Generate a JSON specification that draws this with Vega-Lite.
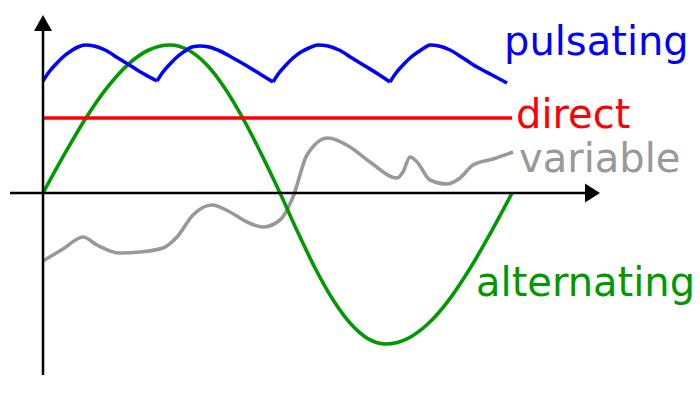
{
  "$schema": "https://vega.github.io/schema/vega-lite/v6.json",
  "width": 700,
  "height": 400,
  "autosize": {"type": "fit", "contains": "padding"},
  "padding": 0,
  "background": "white",
  "config": {"view": {"stroke": null}},
  "datasets": {
    "curves": [
      {"series": "variable", "arc": "v", "t": 0, "v": -68},
      {"series": "variable", "arc": "v", "t": 20, "v": -56},
      {"series": "variable", "arc": "v", "t": 40, "v": -44},
      {"series": "variable", "arc": "v", "t": 54, "v": -52},
      {"series": "variable", "arc": "v", "t": 77, "v": -60},
      {"series": "variable", "arc": "v", "t": 97, "v": -59},
      {"series": "variable", "arc": "v", "t": 120, "v": -55},
      {"series": "variable", "arc": "v", "t": 134, "v": -44},
      {"series": "variable", "arc": "v", "t": 150, "v": -22},
      {"series": "variable", "arc": "v", "t": 169, "v": -12},
      {"series": "variable", "arc": "v", "t": 187, "v": -19},
      {"series": "variable", "arc": "v", "t": 204, "v": -29},
      {"series": "variable", "arc": "v", "t": 220, "v": -34},
      {"series": "variable", "arc": "v", "t": 237, "v": -27},
      {"series": "variable", "arc": "v", "t": 250, "v": -4},
      {"series": "variable", "arc": "v", "t": 264, "v": 38},
      {"series": "variable", "arc": "v", "t": 285, "v": 55},
      {"series": "variable", "arc": "v", "t": 307, "v": 46},
      {"series": "variable", "arc": "v", "t": 327, "v": 31},
      {"series": "variable", "arc": "v", "t": 354, "v": 15},
      {"series": "variable", "arc": "v", "t": 360, "v": 21},
      {"series": "variable", "arc": "v", "t": 367, "v": 36},
      {"series": "variable", "arc": "v", "t": 374, "v": 31},
      {"series": "variable", "arc": "v", "t": 387, "v": 13},
      {"series": "variable", "arc": "v", "t": 404, "v": 9},
      {"series": "variable", "arc": "v", "t": 417, "v": 15},
      {"series": "variable", "arc": "v", "t": 430, "v": 28},
      {"series": "variable", "arc": "v", "t": 450, "v": 34},
      {"series": "variable", "arc": "v", "t": 470, "v": 41},

      {"series": "alternating", "arc": "a", "t": 0, "v": 0},
      {"series": "alternating", "arc": "a", "t": 21.2, "v": 38.3},
      {"series": "alternating", "arc": "a", "t": 42.3, "v": 74},
      {"series": "alternating", "arc": "a", "t": 63.5, "v": 104.6},
      {"series": "alternating", "arc": "a", "t": 84.7, "v": 128.2},
      {"series": "alternating", "arc": "a", "t": 105.8, "v": 143},
      {"series": "alternating", "arc": "a", "t": 127, "v": 148},
      {"series": "alternating", "arc": "a", "t": 145.3, "v": 143},
      {"series": "alternating", "arc": "a", "t": 163.7, "v": 128.2},
      {"series": "alternating", "arc": "a", "t": 182, "v": 104.6},
      {"series": "alternating", "arc": "a", "t": 200.3, "v": 74},
      {"series": "alternating", "arc": "a", "t": 218.7, "v": 38.3},
      {"series": "alternating", "arc": "a", "t": 237, "v": 0},
      {"series": "alternating", "arc": "a", "t": 254.7, "v": -39.1},
      {"series": "alternating", "arc": "a", "t": 272.3, "v": -75.5},
      {"series": "alternating", "arc": "a", "t": 290, "v": -106.8},
      {"series": "alternating", "arc": "a", "t": 307.7, "v": -130.8},
      {"series": "alternating", "arc": "a", "t": 325.3, "v": -145.9},
      {"series": "alternating", "arc": "a", "t": 343, "v": -151},
      {"series": "alternating", "arc": "a", "t": 364, "v": -145.9},
      {"series": "alternating", "arc": "a", "t": 385, "v": -130.8},
      {"series": "alternating", "arc": "a", "t": 406, "v": -106.8},
      {"series": "alternating", "arc": "a", "t": 427, "v": -75.5},
      {"series": "alternating", "arc": "a", "t": 448, "v": -39.1},
      {"series": "alternating", "arc": "a", "t": 469, "v": 0},

      {"series": "direct", "arc": "d", "t": 0, "v": 75},
      {"series": "direct", "arc": "d", "t": 469, "v": 75},

      {"series": "pulsating", "arc": "p1", "t": 0, "v": 112},
      {"series": "pulsating", "arc": "p1", "t": 6, "v": 121},
      {"series": "pulsating", "arc": "p1", "t": 13, "v": 129},
      {"series": "pulsating", "arc": "p1", "t": 20, "v": 136},
      {"series": "pulsating", "arc": "p1", "t": 28, "v": 142},
      {"series": "pulsating", "arc": "p1", "t": 35, "v": 146},
      {"series": "pulsating", "arc": "p1", "t": 42, "v": 148},
      {"series": "pulsating", "arc": "p1", "t": 51, "v": 147},
      {"series": "pulsating", "arc": "p1", "t": 62, "v": 143},
      {"series": "pulsating", "arc": "p1", "t": 75, "v": 135},
      {"series": "pulsating", "arc": "p1", "t": 88, "v": 127},
      {"series": "pulsating", "arc": "p1", "t": 101, "v": 119},
      {"series": "pulsating", "arc": "p1", "t": 114, "v": 112},
      {"series": "pulsating", "arc": "p2", "t": 114, "v": 112},
      {"series": "pulsating", "arc": "p2", "t": 120, "v": 121},
      {"series": "pulsating", "arc": "p2", "t": 127, "v": 129},
      {"series": "pulsating", "arc": "p2", "t": 134, "v": 136},
      {"series": "pulsating", "arc": "p2", "t": 142, "v": 142},
      {"series": "pulsating", "arc": "p2", "t": 149, "v": 146},
      {"series": "pulsating", "arc": "p2", "t": 157, "v": 147},
      {"series": "pulsating", "arc": "p2", "t": 166, "v": 146},
      {"series": "pulsating", "arc": "p2", "t": 177, "v": 142},
      {"series": "pulsating", "arc": "p2", "t": 190, "v": 135},
      {"series": "pulsating", "arc": "p2", "t": 204, "v": 127},
      {"series": "pulsating", "arc": "p2", "t": 217, "v": 119},
      {"series": "pulsating", "arc": "p2", "t": 230, "v": 111},
      {"series": "pulsating", "arc": "p3", "t": 230, "v": 111},
      {"series": "pulsating", "arc": "p3", "t": 236, "v": 120},
      {"series": "pulsating", "arc": "p3", "t": 243, "v": 128},
      {"series": "pulsating", "arc": "p3", "t": 250, "v": 135},
      {"series": "pulsating", "arc": "p3", "t": 258, "v": 141},
      {"series": "pulsating", "arc": "p3", "t": 266, "v": 145},
      {"series": "pulsating", "arc": "p3", "t": 275, "v": 148},
      {"series": "pulsating", "arc": "p3", "t": 285, "v": 147},
      {"series": "pulsating", "arc": "p3", "t": 296, "v": 143},
      {"series": "pulsating", "arc": "p3", "t": 309, "v": 135},
      {"series": "pulsating", "arc": "p3", "t": 322, "v": 127},
      {"series": "pulsating", "arc": "p3", "t": 335, "v": 119},
      {"series": "pulsating", "arc": "p3", "t": 347, "v": 111},
      {"series": "pulsating", "arc": "p4", "t": 347, "v": 111},
      {"series": "pulsating", "arc": "p4", "t": 353, "v": 120},
      {"series": "pulsating", "arc": "p4", "t": 360, "v": 128},
      {"series": "pulsating", "arc": "p4", "t": 367, "v": 135},
      {"series": "pulsating", "arc": "p4", "t": 375, "v": 141},
      {"series": "pulsating", "arc": "p4", "t": 381, "v": 145},
      {"series": "pulsating", "arc": "p4", "t": 387, "v": 148},
      {"series": "pulsating", "arc": "p4", "t": 396, "v": 147},
      {"series": "pulsating", "arc": "p4", "t": 407, "v": 143},
      {"series": "pulsating", "arc": "p4", "t": 420, "v": 135},
      {"series": "pulsating", "arc": "p4", "t": 434, "v": 126},
      {"series": "pulsating", "arc": "p4", "t": 449, "v": 118},
      {"series": "pulsating", "arc": "p4", "t": 464, "v": 110}
    ],
    "labels": [
      {"series": "pulsating", "t": 461, "v": 138},
      {"series": "direct", "t": 473, "v": 65},
      {"series": "variable", "t": 476, "v": 21},
      {"series": "alternating", "t": 433, "v": -103}
    ],
    "axes": [
      {"name": "x", "t": -33, "t2": 545, "v": 0, "v2": 0},
      {"name": "y", "t": 0, "t2": 0, "v": -182, "v2": 165}
    ],
    "arrows": [
      {"name": "up", "t": 0, "v": 170},
      {"name": "right", "t": 549.5, "v": 0}
    ]
  },
  "layer": [
    {
      "data": {"name": "curves"},
      "mark": {"type": "line", "strokeWidth": 3.6, "interpolate": "monotone", "strokeCap": "butt", "strokeJoin": "round"},
      "encoding": {
        "x": {"field": "t", "type": "quantitative", "scale": {"domain": [-43, 657], "nice": false, "zero": false}, "axis": null},
        "y": {"field": "v", "type": "quantitative", "scale": {"domain": [-207, 193], "nice": false, "zero": false}, "axis": null},
        "color": {"field": "series", "type": "nominal", "scale": {"domain": ["variable", "alternating", "direct", "pulsating"], "range": ["#999999", "#009900", "#ff0000", "#0000ff"]}, "legend": null},
        "detail": {"field": "arc"},
        "order": {"field": "t", "type": "quantitative"}
      }
    },
    {
      "data": {"name": "labels"},
      "mark": {"type": "text", "font": "DejaVu Sans", "fontSize": 40, "align": "left", "baseline": "alphabetic"},
      "encoding": {
        "x": {"field": "t", "type": "quantitative"},
        "y": {"field": "v", "type": "quantitative"},
        "text": {"field": "series"},
        "color": {"field": "series", "type": "nominal", "legend": null}
      }
    },
    {
      "data": {"name": "axes"},
      "mark": {"type": "rule", "color": "black", "strokeWidth": 2.5},
      "encoding": {
        "x": {"field": "t", "type": "quantitative"},
        "x2": {"field": "t2"},
        "y": {"field": "v", "type": "quantitative"},
        "y2": {"field": "v2"}
      }
    },
    {
      "data": {"name": "arrows"},
      "transform": [{"filter": "datum.name === 'up'"}],
      "mark": {"type": "point", "filled": true, "color": "black", "opacity": 1, "strokeWidth": 0, "size": 324, "shape": "M0,-0.89L1,0.89L-1,0.89Z"},
      "encoding": {
        "x": {"field": "t", "type": "quantitative"},
        "y": {"field": "v", "type": "quantitative"}
      }
    },
    {
      "data": {"name": "arrows"},
      "transform": [{"filter": "datum.name === 'right'"}],
      "mark": {"type": "point", "filled": true, "color": "black", "opacity": 1, "strokeWidth": 0, "size": 361, "shape": "M0.79,0L-0.79,-1L-0.79,1Z"},
      "encoding": {
        "x": {"field": "t", "type": "quantitative"},
        "y": {"field": "v", "type": "quantitative"}
      }
    }
  ]
}
